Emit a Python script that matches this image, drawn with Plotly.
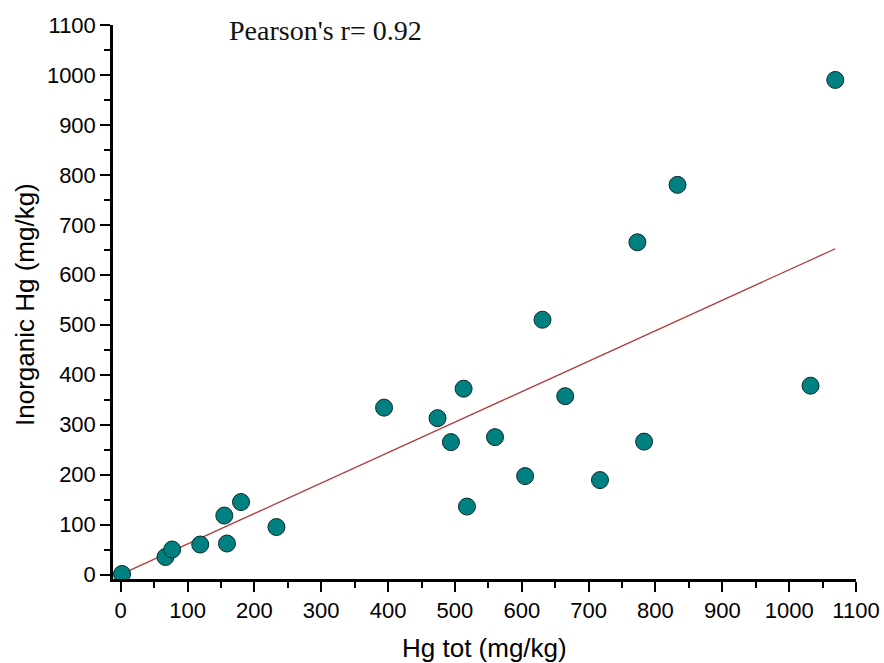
import plotly.graph_objects as go

# Data
hg_tot = [2, 67, 77, 119, 155, 159, 180, 233, 394, 474, 494, 513, 518, 560, 605,
          631, 665, 717, 773, 783, 833, 1032, 1069]
inorganic_hg = [1, 35, 50, 60, 118, 62, 145, 95, 334, 313, 265, 372, 136, 275, 197,
                510, 357, 189, 665, 266, 780, 378, 990]

# Linear fit
fit_slope = 0.61
fit_intercept = 0.0
pearson_text = "Pearson's r= 0.92"
x_title = "Hg tot (mg/kg)"
y_title = "Inorganic Hg (mg/kg)"

x_ticks = list(range(0, 1101, 100))
y_ticks = list(range(0, 1101, 100))

fit_x = [min(hg_tot), max(hg_tot)]
fit_y = [fit_slope * v + fit_intercept for v in fit_x]

fig = go.Figure()
fig.add_trace(go.Scatter(
    x=fit_x, y=fit_y, mode="lines",
    line=dict(color="#B23A3A", width=1.3),
    showlegend=False, hoverinfo="skip",
))
fig.add_trace(go.Scatter(
    x=hg_tot, y=inorganic_hg, mode="markers",
    marker=dict(size=17, color="#008080", line=dict(color="#0A2A2A", width=1)),
    showlegend=False,
))

fig.add_annotation(
    x=306, y=1090, xref="x", yref="y", text=pearson_text, showarrow=False,
    font=dict(family="Liberation Serif", size=28, color="#111"),
    xanchor="center", yanchor="middle",
)
fig.add_annotation(
    x=0.5, y=0, xref="paper", yref="paper", yshift=-69, text=x_title, showarrow=False,
    font=dict(family="Liberation Sans", size=26, color="black"),
    xanchor="center", yanchor="middle",
)
fig.add_annotation(
    x=0, y=0.5, xref="paper", yref="paper", xshift=-88, yshift=-3, text=y_title,
    showarrow=False, textangle=-90,
    font=dict(family="Liberation Sans", size=26, color="black"),
    xanchor="center", yanchor="middle",
)

axis_common = dict(
    showline=True, linecolor="black", linewidth=2.5, mirror=False,
    showgrid=False, zeroline=False, automargin=False,
    ticks="outside", ticklen=10, tickwidth=2, tickcolor="black",
    tickfont=dict(family="Liberation Sans", size=22, color="black"),
    minor=dict(ticks="outside", ticklen=6, tickwidth=2, tickcolor="black", dtick=50, tick0=0),
)

fig.update_xaxes(
    range=[-11.5, 1100], tickvals=x_ticks, ticktext=[str(v) for v in x_ticks],
    **axis_common,
)
fig.update_yaxes(
    range=[-9, 1100], tickvals=y_ticks, ticktext=[str(v) for v in y_ticks],
    **axis_common,
)

fig.update_layout(
    width=884, height=663,
    margin=dict(l=113, r=28, t=25, b=84),
    paper_bgcolor="white", plot_bgcolor="white",
)

fig.write_html(
    "out.html",
    config={"displayModeBar": False},
    post_script="document.body.style.margin='0';document.body.style.overflow='hidden';",
)
